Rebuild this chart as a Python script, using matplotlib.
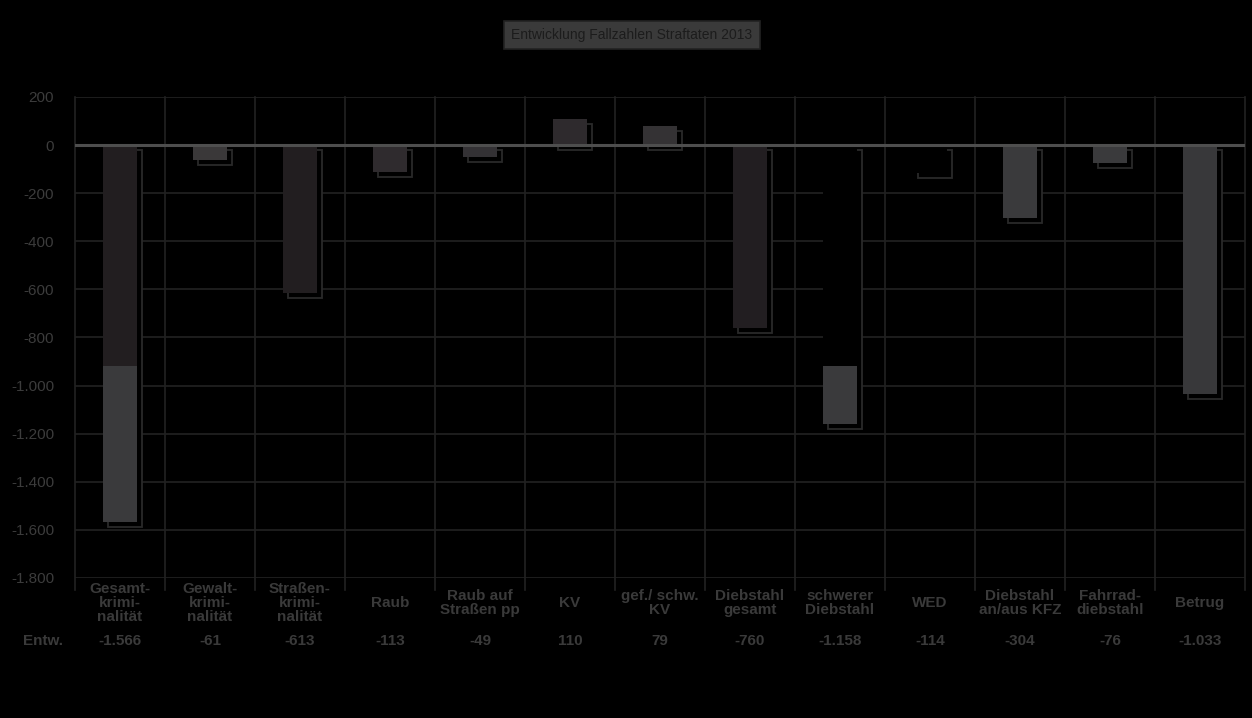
import matplotlib
matplotlib.use("Agg")
import matplotlib.pyplot as plt
from matplotlib.patches import Rectangle

plt.rcParams['font.family'] = ['Liberation Sans', 'DejaVu Sans']

categories = ["Gesamt-\nkrimi-\nnalität", "Gewalt-\nkrimi-\nnalität", "Straßen-\nkrimi-\nnalität",
              "Raub", "Raub auf\nStraßen pp", "KV", "gef./ schw.\nKV", "Diebstahl\ngesamt",
              "schwerer\nDiebstahl", "WED", "Diebstahl\nan/aus KFZ", "Fahrrad-\ndiebstahl", "Betrug"]
values = [-1566, -61, -613, -113, -49, 110, 79, -760, -1158, -114, -304, -76, -1033]
value_labels = ["-1.566", "-61", "-613", "-113", "-49", "110", "79", "-760", "-1.158", "-114", "-304", "-76", "-1.033"]
split = [-917, None, None, None, None, None, None, None, -917, None, None, None, None]
top_colors = ["#221e20", "#3a3839", "#221e20", "#2f2b2e", "#333134", "#2e2a2d", "#343234",
              "#221e21", "#000000", "#000000", "#3a3a3c", "#3a3a3c", "#38383a"]
bottom_colors = ["#3a3a3c", None, None, None, None, None, None, None, "#3a3a3c", None, None, None, None]
yticks = [200, 0, -200, -400, -600, -800, -1000, -1200, -1400, -1600, -1800]
ytick_labels = ["200", "0", "-200", "-400", "-600", "-800", "-1.000", "-1.200", "-1.400", "-1.600", "-1.800"]
title = "Entwicklung Fallzahlen Straftaten 2013"

W, H = 1252, 718
fig = plt.figure(figsize=(W / 100, H / 100), dpi=100, facecolor="black")
ax = fig.add_axes([75 / W, 1 - 578 / H, 1170 / W, (578 - 97) / H])
ax.set_facecolor("black")
ax.set_xlim(-0.5, len(categories) - 0.5)
ax.set_ylim(-1800, 200)
for s in ax.spines.values():
    s.set_visible(False)

grid_c = "#222222"
for t in yticks:
    ax.axhline(t, color=grid_c, lw=1.2, zorder=1)
for i in range(len(categories) + 1):
    ax.plot([i - 0.5, i - 0.5], [200, -1850], color=grid_c, lw=1.2, zorder=1, clip_on=False)

bw = 0.37
dx = 0.055
dy = -21
for i, v in enumerate(values):
    # shadow
    ax.add_patch(Rectangle((i - bw / 2 + dx, dy), bw, v, facecolor="black",
                           edgecolor="#2a2a2a", lw=1.3, zorder=2))
    if split[i] is None:
        ax.bar(i, v, width=bw, color=top_colors[i], zorder=3)
    else:
        ax.bar(i, split[i], width=bw, color=top_colors[i], zorder=3)
        ax.bar(i, v - split[i], bottom=split[i], width=bw, color=bottom_colors[i], zorder=3)

ax.axhline(0, color="#4e4e4e", lw=2.2, zorder=4)

ax.set_yticks(yticks)
ax.set_yticklabels(ytick_labels, color="#3c3c3c", fontsize=11)
ax.tick_params(axis="y", length=0, pad=15)
ax.set_xticks([])

txt_c = "#3a3a3a"
for i, c in enumerate(categories):
    x = 75 + (i + 0.5) * 90
    fig.text(x / W, 1 - 603 / H, c, ha="center", va="center", fontsize=11, fontweight="bold",
             color=txt_c, linespacing=1.0)
    fig.text(x / W, 1 - 641 / H, value_labels[i], ha="center", va="center", fontsize=11,
             fontweight="bold", color=txt_c)
fig.text(43 / W, 1 - 641 / H, "Entw.", ha="center", va="center", fontsize=11,
         fontweight="bold", color=txt_c)

# title box
fig.text(632 / W, 1 - 35 / H, title, ha="center", va="center", fontsize=10, color="#1c1c1c",
         bbox=dict(boxstyle="square,pad=0.5", facecolor="#3a3a3a", edgecolor="#222222", lw=1.2))

fig.savefig("out.png", dpi=100, facecolor="black")
